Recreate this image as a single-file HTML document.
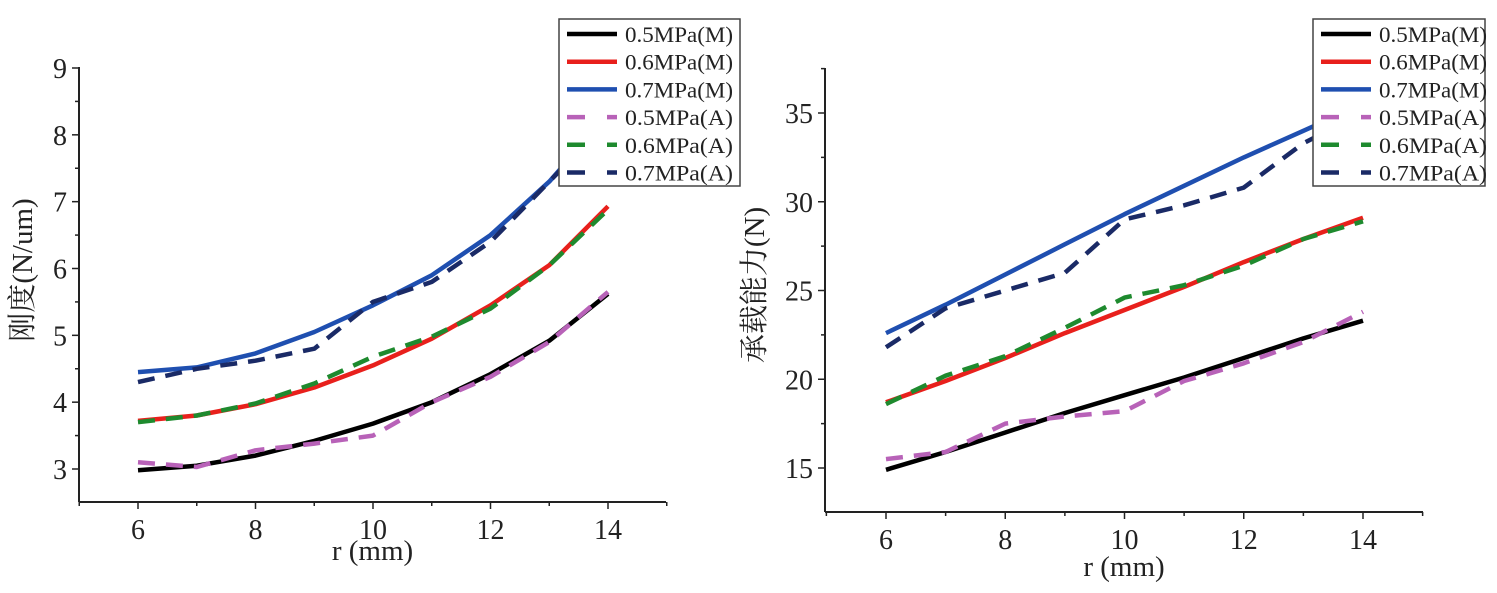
<!DOCTYPE html>
<html><head><meta charset="utf-8"><style>
html,body{margin:0;padding:0;background:#fff;}
svg{display:block;}
text{font-family:"Liberation Serif","Noto Serif CJK SC",serif;fill:#222;}
</style></head><body>
<svg id="chart" width="1497" height="593" viewBox="0 0 1497 593" xmlns="http://www.w3.org/2000/svg"></svg>
<script>
const xCats = [6,7,8,9,10,11,12,13,14];
const xTicks = [6,8,10,12,14];
const seriesNames = ["0.5MPa(M)","0.6MPa(M)","0.7MPa(M)","0.5MPa(A)","0.6MPa(A)","0.7MPa(A)"];
// left chart: stiffness
const leftYTicks = [3,4,5,6,7,8,9];
const leftM05 = [2.98,3.05,3.2,3.42,3.68,4.0,4.42,4.92,5.62];
const leftM06 = [3.72,3.8,3.97,4.22,4.55,4.95,5.45,6.05,6.93];
const leftM07 = [4.45,4.52,4.73,5.05,5.45,5.9,6.5,7.3,8.3];
const leftA05 = [3.1,3.03,3.28,3.38,3.5,4.0,4.38,4.9,5.65];
const leftA06 = [3.7,3.8,3.98,4.28,4.68,4.98,5.4,6.05,6.88];
const leftA07 = [4.3,4.5,4.62,4.8,5.5,5.8,6.4,7.3,8.2];
// right chart: load capacity
const rightYTicks = [15,20,25,30,35];
const rightM05 = [14.9,15.9,17.0,18.1,19.1,20.1,21.2,22.3,23.3];
const rightM06 = [18.7,19.9,21.2,22.6,23.9,25.2,26.6,27.9,29.1];
const rightM07 = [22.6,24.2,25.9,27.6,29.3,30.9,32.5,34.0,35.5];
const rightA05 = [15.5,15.9,17.5,17.9,18.2,19.9,20.9,22.1,23.8];
const rightA06 = [18.6,20.2,21.3,22.9,24.6,25.3,26.4,27.9,28.9];
const rightA07 = [21.8,24.0,25.0,26.0,29.0,29.8,30.8,33.3,35.0];

const colors = ["#000000","#e8201c","#1f4fb0","#b862b8","#1e8a2e","#1a2a66"];
const NS = "http://www.w3.org/2000/svg";
const svg = document.getElementById("chart");
function mk(tag, attrs, parent){const e=document.createElementNS(NS,tag);for(const k in attrs)e.setAttribute(k,attrs[k]);(parent||svg).appendChild(e);return e;}

function drawChart(cfg){
  const g = mk("g",{});
  
  
  const xs = v => cfg.x0 + (v-6)/(14-6)*(cfg.x1-cfg.x0);
  const ys = v => cfg.yb - (v-cfg.ylo)/(cfg.yhi-cfg.ylo)*(cfg.yb-cfg.yt);
  const ya = mk("line",{x1:cfg.ax,y1:cfg.top,x2:cfg.ax,y2:cfg.axY,stroke:"#222","stroke-width":2},g);
  
  
  const xa = mk("line",{x1:cfg.ax,y1:cfg.axY,x2:cfg.right,y2:cfg.axY,stroke:"#222","stroke-width":2},g);
  
  
  for(let v=5; v<=15; v++){
    const X = xs(v);
    mk("line",{x1:X,y1:cfg.axY,x2:X,y2:cfg.axY+(v%2===0?7:4),stroke:"#222","stroke-width":1.5},g);
  }
  xTicks.forEach(v=>{
    const t = mk("text",{x:xs(v),y:cfg.axY+37,"font-size":28,"text-anchor":"middle"},g);
    t.textContent = v;
    
    
  });
  const ticks = cfg.yTicks;
  const step = ticks[1]-ticks[0];
  for(let v=ticks[0]-step; v<=ticks[ticks.length-1]+step/2; v+=step/2){
    const Y = ys(v);
    if(Y<cfg.top-1 || Y>cfg.axY) continue;
    const major = ticks.includes(v);
    mk("line",{x1:cfg.ax-(major?7:4),y1:Y,x2:cfg.ax,y2:Y,stroke:"#222","stroke-width":1.5},g);
  }
  ticks.forEach(v=>{
    const t = mk("text",{x:cfg.ax-12,y:ys(v)+10,"font-size":28,"text-anchor":"end"},g);
    t.textContent = v;
    
    
  });
  const xl = mk("text",{x:(cfg.ax+cfg.right)/2,y:cfg.axY+cfg.xlOff,"font-size":29,"text-anchor":"middle"},g);
  xl.textContent = "r (mm)";
  
  
  const yl = mk("text",{x:0,y:0,"font-size":29,"text-anchor":"middle",transform:`translate(${cfg.ylx},${cfg.yly}) rotate(-90)`},g);
  yl.textContent = cfg.ylabel;
  
  
  cfg.series.forEach((arr,i)=>{
    const d = arr.map((v,j)=>(j?"L":"M")+xs(xCats[j]).toFixed(1)+","+ys(v).toFixed(1)).join(" ");
    const p = mk("path",{d:d,fill:"none",stroke:colors[i],"stroke-width":4.5,"stroke-linejoin":"round"},g);
    if(i>=3) p.setAttribute("stroke-dasharray","17 11");
    
    
  });
  const lg = mk("g",{},g);
  
  
  mk("rect",{x:cfg.lx,y:19,width:cfg.lw,height:167,fill:"#fff",stroke:"#444","stroke-width":1.5},lg);
  seriesNames.forEach((n,i)=>{
    const Y = 34 + i*27.7;
    const ln = mk("line",{x1:cfg.lx+8,y1:Y,x2:cfg.lx+58,y2:Y,stroke:colors[i],"stroke-width":4.5},lg);
    if(i>=3) ln.setAttribute("stroke-dasharray","18 22");
    
    
    const t = mk("text",{x:cfg.lx+66,y:Y+8,"font-size":22,textLength:108,lengthAdjust:"spacingAndGlyphs"},lg);
    t.textContent = n;
    
    
  });
}

drawChart({name:"stiffness-chart",x0:138,x1:608,ax:79,axY:502,right:666,top:67,xlOff:58,
  ylo:3,yhi:9,yb:469,yt:68,yTicks:leftYTicks,ylabel:"刚度(N/um)",ylx:32,yly:270,
  lx:559,lw:181,series:[leftM05,leftM06,leftM07,leftA05,leftA06,leftA07]});
drawChart({name:"load-capacity-chart",x0:886,x1:1363,ax:825,axY:512,right:1423,top:68,xlOff:64,
  ylo:15,yhi:35,yb:468,yt:113,yTicks:rightYTicks,ylabel:"承载能力(N)",ylx:764,yly:285,
  lx:1313,lw:172,series:[rightM05,rightM06,rightM07,rightA05,rightA06,rightA07]});
</script>
</body></html>
